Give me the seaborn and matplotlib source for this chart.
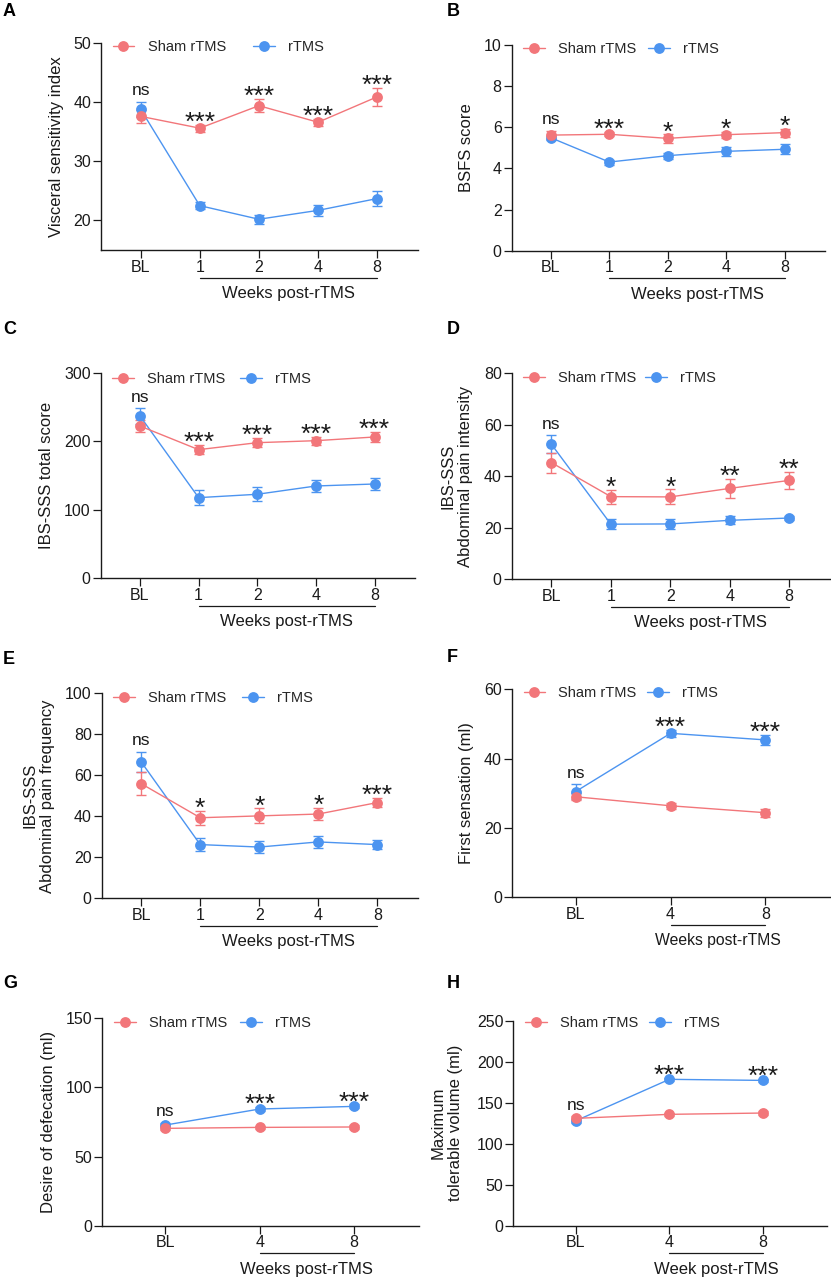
import numpy as np
import pandas as pd
import matplotlib
matplotlib.use("Agg")
import matplotlib.pyplot as plt
import seaborn as sns
from matplotlib.lines import Line2D
from matplotlib.transforms import offset_copy

sns.set_style("ticks")
plt.rcParams['font.family'] = ['Liberation Sans', 'DejaVu Sans']

RED = "#F2767A"
BLUE = "#4C94F0"
INK = "#1a1a1a"

weeks5 = ['BL', '1', '2', '4', '8']
weeks3 = ['BL', '4', '8']

# A - visceral sensitivity index
a_sham = [37.6, 35.6, 39.4, 36.6, 40.9]
a_sham_err = [1.1, 0.6, 1.1, 0.6, 1.5]
a_rtms = [38.8, 22.5, 20.2, 21.7, 23.7]
a_rtms_err = [1.3, 0.6, 0.8, 0.9, 1.2]
a_sig = ['ns', '***', '***', '***', '***']

# B - BSFS score
b_sham = [5.62, 5.66, 5.46, 5.64, 5.74]
b_sham_err = [0.2, 0.1, 0.2, 0.15, 0.2]
b_rtms = [5.49, 4.31, 4.62, 4.83, 4.93]
b_rtms_err = [0.1, 0.12, 0.15, 0.22, 0.25]
b_sig = ['ns', '***', '*', '*', '*']

# C - IBS-SSS total
c_sham = [222.2, 187.7, 197.9, 200.8, 206.2]
c_sham_err = [9.2, 7, 7, 6, 7]
c_rtms = [236.8, 117.7, 122.6, 134.7, 137.6]
c_rtms_err = [11, 11, 10, 8.5, 9]
c_sig = ['ns', '***', '***', '***', '***']

# D - abdominal pain intensity
d_sham = [45.3, 32.1, 32.0, 35.3, 38.4]
d_sham_err = [3.9, 2.7, 2.9, 3.7, 3.4]
d_rtms = [52.4, 21.4, 21.5, 22.9, 23.8]
d_rtms_err = [3.5, 2.0, 2.0, 1.5, 0.8]
d_sig = ['ns', '*', '*', '**', '**']

# E - abdominal pain frequency
e_sham = [55.9, 39.3, 40.2, 41.1, 46.7]
e_sham_err = [5.7, 3.3, 3.7, 3.0, 2.4]
e_rtms = [66.5, 26.2, 25.0, 27.5, 26.2]
e_rtms_err = [4.9, 3.1, 3.0, 3.0, 2.2]
e_sig = ['ns', '*', '*', '*', '***']

# F - first sensation
f_sham = [29.0, 26.4, 24.4]
f_sham_err = [1.0, 0.9, 1.2]
f_rtms = [30.5, 47.3, 45.4]
f_rtms_err = [2.1, 1.0, 1.4]
f_sig = ['ns', '***', '***']

# G - desire of defecation
g_sham = [70.4, 71.1, 71.4]
g_sham_err = [1.5, 1.2, 1.2]
g_rtms = [72.8, 84.4, 86.3]
g_rtms_err = [1.5, 1.5, 1.5]
g_sig = ['ns', '***', '***']

# H - maximum tolerable volume
h_sham = [130.9, 135.8, 137.4]
h_sham_err = [2.5, 2, 2]
h_rtms = [128.0, 178.5, 177.2]
h_rtms_err = [2.5, 2, 2]
h_sig = ['ns', '***', '***']

W, H = 831, 1280
fig = plt.figure(figsize=(W / 100, H / 100), dpi=100)


def make_ax(left, right, top, bottom):
    return fig.add_axes([left / W, (H - bottom) / H, (right - left) / W, (bottom - top) / H])


panels = [
    dict(letter='A', box=(101, 418, 43, 250), cats=weeks5, sham=a_sham, sham_err=a_sham_err,
         rtms=a_rtms, rtms_err=a_rtms_err, sig=a_sig, ylim=(15, 50), yticks=[20, 30, 40, 50],
         ylabel='Visceral sensitivity index', ylab_px=44, colsp=1.9, xlab='Weeks post-rTMS', leg_y=4),
    dict(letter='B', box=(511.7, 825, 45, 250.7), cats=weeks5, sham=b_sham, sham_err=b_sham_err,
         rtms=b_rtms, rtms_err=b_rtms_err, sig=b_sig, ylim=(0, 10), yticks=[0, 2, 4, 6, 8, 10],
         ylabel='BSFS score', ylab_px=45, colsp=0.8, xlab='Weeks post-rTMS', leg_y=4),
    dict(letter='C', box=(100.7, 415, 372.7, 578.3), cats=weeks5, sham=c_sham, sham_err=c_sham_err,
         rtms=c_rtms, rtms_err=c_rtms_err, sig=c_sig, ylim=(0, 300), yticks=[0, 100, 200, 300],
         ylabel='IBS-SSS total score', ylab_px=54, colsp=1.0, xlab='Weeks post-rTMS', leg_y=6),
    dict(letter='D', box=(511.7, 830, 373.3, 579.3), cats=weeks5, sham=d_sham, sham_err=d_sham_err,
         rtms=d_rtms, rtms_err=d_rtms_err, sig=d_sig, ylim=(0, 80), yticks=[0, 20, 40, 60, 80],
         ylabel='IBS-SSS\nAbdominal pain intensity', ylab_px=55, colsp=0.6, xlab='Weeks post-rTMS', leg_y=4.4),
    dict(letter='E', box=(101.7, 418, 693.3, 898.3), cats=weeks5, sham=e_sham, sham_err=e_sham_err,
         rtms=e_rtms, rtms_err=e_rtms_err, sig=e_sig, ylim=(0, 100), yticks=[0, 20, 40, 60, 80, 100],
         ylabel='IBS-SSS\nAbdominal pain frequency', ylab_px=63, colsp=1.1, xlab='Weeks post-rTMS', leg_y=4.4),
    dict(letter='F', box=(512, 831, 689.3, 897.3), cats=weeks3, sham=f_sham, sham_err=f_sham_err,
         rtms=f_rtms, rtms_err=f_rtms_err, sig=f_sig, ylim=(0, 60), yticks=[0, 20, 40, 60],
         ylabel='First sensation (ml)', ylab_px=45, colsp=0.7, xlab='Weeks post-rTMS', leg_y=4),
    dict(letter='G', box=(102.3, 419, 1018.3, 1225.7), cats=weeks3, sham=g_sham, sham_err=g_sham_err,
         rtms=g_rtms, rtms_err=g_rtms_err, sig=g_sig, ylim=(0, 150), yticks=[0, 50, 100, 150],
         ylabel='Desire of defecation (ml)', ylab_px=54, colsp=0.87, xlab='Weeks post-rTMS', leg_y=5),
    dict(letter='H', box=(513.3, 827.3, 1020.7, 1225.7), cats=weeks3, sham=h_sham, sham_err=h_sham_err,
         rtms=h_rtms, rtms_err=h_rtms_err, sig=h_sig, ylim=(0, 250), yticks=[0, 50, 100, 150, 200, 250],
         ylabel='Maximum\ntolerable volume (ml)', ylab_px=66, colsp=0.75, xlab='Week post-rTMS', leg_y=2.7),
]

letter_y = {'A': 12, 'B': 11, 'C': 330, 'D': 330, 'E': 659, 'F': 657, 'G': 984, 'H': 984}

for p in panels:
    left, right, top, bottom = p['box']
    ax = make_ax(left, right, top, bottom)
    n = len(p['cats'])
    x = np.arange(n)

    # error bars first, rTMS under Sham
    for y, e, col in [(p['rtms'], p['rtms_err'], BLUE), (p['sham'], p['sham_err'], RED)]:
        ax.errorbar(x, y, yerr=e, fmt='none', ecolor=col, elinewidth=1.0,
                    capsize=3.8, capthick=1.0, zorder=2)

    df = pd.DataFrame({'x': np.r_[x, x],
                       'y': list(p['rtms']) + list(p['sham']),
                       'group': ['rTMS'] * n + ['Sham rTMS'] * n})
    sns.lineplot(data=df, x='x', y='y', hue='group', hue_order=['rTMS', 'Sham rTMS'],
                 palette={'rTMS': BLUE, 'Sham rTMS': RED}, marker='o', markersize=7.8,
                 markeredgewidth=0, linewidth=1.0, errorbar=None, legend=False, ax=ax, zorder=3)

    # significance marks
    for i, s in enumerate(p['sig']):
        top_val = max(p['sham'][i] + p['sham_err'][i], p['rtms'][i] + p['rtms_err'][i])
        if s == 'ns':
            ax.annotate(s, xy=(i, top_val), xytext=(0, 4.7), textcoords='offset points',
                        ha='center', va='baseline', fontsize=12.5, color=INK)
        else:
            ax.annotate(s, xy=(i, top_val), xytext=(0, -3.7), textcoords='offset points',
                        ha='center', va='baseline', fontsize=19, color=INK)

    ax.set_xlim(-0.67, n - 1 + 0.69)
    ax.set_ylim(*p['ylim'])
    ax.set_yticks(p['yticks'])
    ax.set_xticks(x)
    ax.set_xticklabels(p['cats'])
    ax.set_xlabel('')
    ax.set_ylabel(p['ylabel'], fontsize=12, color=INK, multialignment='center')
    ax.yaxis.label.set_va('center')
    ax.yaxis.set_label_coords(-p['ylab_px'] / (right - left), 0.5)
    ax.tick_params(axis='both', labelsize=11.5, length=5.5, width=0.9, colors=INK)
    ax.tick_params(axis='x', pad=1.5)
    ax.tick_params(axis='y', pad=1.7)
    sns.despine(ax=ax)
    for sp in ['left', 'bottom']:
        ax.spines[sp].set_linewidth(1.0)
        ax.spines[sp].set_color(INK)

    # bracket line under post-rTMS weeks and its label
    line_tr = offset_copy(ax.get_xaxis_transform(), fig=fig, y=-19.8, units='points')
    ax.plot([1, n - 1], [0, 0], transform=line_tr, color=INK, lw=0.9, clip_on=False)
    text_tr = offset_copy(ax.get_xaxis_transform(), fig=fig, y=-31.3, units='points')
    ax.text((1 + n - 1) / 2, 0, p['xlab'], transform=text_tr, ha='center', va='center',
            fontsize=11.3 if p['letter'] == 'F' else 12, color=INK)

    # legend
    handles = [Line2D([0], [0], color=RED, marker='o', ms=7.8, mew=0, lw=1.0),
               Line2D([0], [0], color=BLUE, marker='o', ms=7.8, mew=0, lw=1.0)]
    ax.legend(handles, ['Sham rTMS', 'rTMS'], ncol=2, loc='center left',
              bbox_to_anchor=(11.5 / (right - left), 1 - p['leg_y'] / (bottom - top)),
              frameon=False, fontsize=10.5, handlelength=1.5, handletextpad=0.9,
              columnspacing=p['colsp'], borderaxespad=0, borderpad=0)

    # panel letter
    lx = 3 if left < 300 else 447
    fig.text(lx / W, 1 - letter_y[p['letter']] / H, p['letter'], fontsize=13, fontweight='bold',
             ha='left', va='center', color='black')

fig.savefig('out.png', dpi=100)
